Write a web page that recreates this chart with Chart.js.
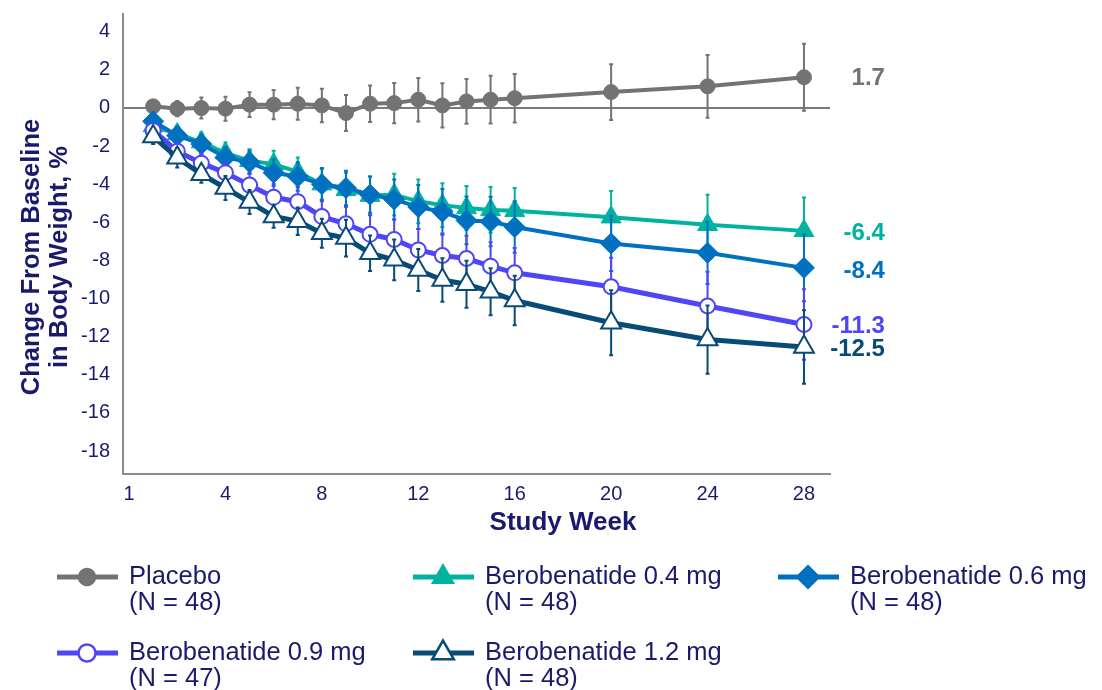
<!DOCTYPE html>
<html>
<head>
<meta charset="utf-8">
<title>Change From Baseline in Body Weight</title>
<script src="https://cdn.jsdelivr.net/npm/chart.js@4.4.0/dist/chart.umd.min.js"></script>
<style>
  html, body { margin: 0; padding: 0; background: #fff; }
  #wrap { width: 1102px; height: 690px; position: relative; }
</style>
</head>
<body>
<div id="wrap"><canvas id="chart" width="1102" height="690"></canvas></div>
<script>
// study weeks where values were measured
const weeks = [1, 2, 3, 4, 5, 6, 7, 8, 9, 10, 11, 12, 13, 14, 15, 16, 20, 24, 28];

// axis ticks as printed
const xTickValues = [0, 4, 8, 12, 16, 20, 24, 28];
const xTickLabels = ['1', '4', '8', '12', '16', '20', '24', '28'];
const yTickValues = [4, 2, 0, -2, -4, -6, -8, -10, -12, -14, -16, -18];

const seriesNames = ['Placebo', 'Berobenatide 0.4 mg', 'Berobenatide 0.6 mg', 'Berobenatide 0.9 mg', 'Berobenatide 1.2 mg'];
const seriesN = ['(N = 48)', '(N = 48)', '(N = 48)', '(N = 47)', '(N = 48)'];
const endLabels = ['1.7', '-6.4', '-8.4', '-11.3', '-12.5'];

// mean change, %
const placebo = [0.08, -0.04, -0.01, -0.04, 0.17, 0.17, 0.22, 0.13, -0.27, 0.22, 0.25, 0.43, 0.13, 0.34, 0.43, 0.51, 0.83, 1.13, 1.61];
const dose04 = [-0.95, -1.37, -1.79, -2.37, -2.77, -2.95, -3.35, -4.0, -4.3, -4.6, -4.55, -4.9, -5.1, -5.25, -5.35, -5.4, -5.73, -6.13, -6.45];
const dose06 = [-0.7, -1.45, -1.9, -2.6, -2.85, -3.4, -3.6, -4.0, -4.2, -4.55, -4.8, -5.2, -5.45, -5.9, -5.96, -6.25, -7.11, -7.6, -8.39];
const dose09 = [-1.18, -2.27, -2.9, -3.4, -4.05, -4.69, -4.92, -5.7, -6.08, -6.63, -6.9, -7.45, -7.74, -7.9, -8.3, -8.65, -9.38, -10.39, -11.36];
const dose12 = [-1.5, -2.62, -3.48, -4.2, -4.94, -5.69, -5.94, -6.57, -6.83, -7.62, -7.97, -8.5, -9.03, -9.25, -9.64, -10.1, -11.27, -12.15, -12.54];

// error bar half-lengths
const placeboErr = [0.2, 0.4, 0.55, 0.63, 0.65, 0.77, 0.84, 0.88, 0.94, 0.96, 1.05, 1.14, 1.16, 1.17, 1.25, 1.27, 1.46, 1.65, 1.76];
const dose04Err = [0.3, 0.4, 0.5, 0.55, 0.6, 0.7, 0.75, 0.8, 0.9, 1.0, 1.1, 1.15, 1.15, 1.15, 1.2, 1.2, 1.37, 1.58, 1.75];
const dose06Err = [0.3, 0.4, 0.5, 0.55, 0.6, 0.7, 0.75, 0.85, 0.9, 0.95, 1.05, 1.15, 1.2, 1.25, 1.3, 1.35, 1.45, 1.63, 1.75];
const dose09Err = [0.3, 0.4, 0.5, 0.55, 0.6, 0.7, 0.75, 0.8, 0.9, 1.0, 1.05, 1.1, 1.15, 1.2, 1.25, 1.3, 1.52, 1.8, 1.85];
const dose12Err = [0.4, 0.5, 0.45, 0.63, 0.63, 0.6, 0.72, 0.76, 0.97, 0.93, 1.07, 1.1, 1.14, 1.23, 1.23, 1.3, 1.7, 1.79, 1.93];

const allValues = [placebo, dose04, dose06, dose09, dose12];
const allErrors = [placeboErr, dose04Err, dose06Err, dose09Err, dose12Err];

const NAVY = '#1a1a6c';
const FONT = '"Liberation Sans", Arial, sans-serif';

// look of each series
const styles = [
  { color: '#737373', fill: '#737373', point: 'circle', radius: 7.5, border: 1, line: 4, order: 5 },
  { color: '#00b3a0', fill: '#00b3a0', point: 'triangle', radius: 11.5, border: 1, line: 4, order: 4 },
  { color: '#0070c0', fill: '#0070c0', point: 'rectRot', radius: 10.5, border: 1, line: 4, order: 3 },
  { color: '#4f46f5', fill: '#ffffff', point: 'circle', radius: 7.5, border: 2, line: 5, order: 2 },
  { color: '#084b76', fill: '#ffffff', point: 'triangle', radius: 11.5, border: 2, line: 5, order: 1 }
];

const datasets = seriesNames.map((name, s) => ({
  label: name,
  data: weeks.map((w, i) => ({ x: w, y: allValues[s][i] })),
  errors: allErrors[s],
  borderColor: styles[s].color,
  backgroundColor: styles[s].fill,
  borderWidth: styles[s].line,
  pointStyle: styles[s].point,
  pointRadius: styles[s].radius,
  pointHoverRadius: styles[s].radius,
  pointBorderWidth: styles[s].border,
  pointBorderColor: styles[s].color,
  pointBackgroundColor: styles[s].fill,
  tension: 0,
  order: styles[s].order
}));

// error bars, drawn just under each series
const errorBars = {
  id: 'errorBars',
  beforeDatasetDraw(chart, args) {
    const ds = chart.data.datasets[args.index];
    const yScale = chart.scales.y;
    const ctx = chart.ctx;
    ctx.save();
    ctx.strokeStyle = ds.borderColor;
    ctx.lineWidth = 2;
    args.meta.data.forEach((pt, i) => {
      const v = ds.data[i].y;
      const e = ds.errors[i];
      const top = yScale.getPixelForValue(v + e);
      const bot = yScale.getPixelForValue(v - e);
      ctx.beginPath();
      ctx.moveTo(pt.x, top);
      ctx.lineTo(pt.x, bot);
      ctx.moveTo(pt.x - 2, top);
      ctx.lineTo(pt.x + 2, top);
      ctx.moveTo(pt.x - 2, bot);
      ctx.lineTo(pt.x + 2, bot);
      ctx.stroke();
    });
    ctx.restore();
  }
};

// titles, end-of-line values and the legend
const decorations = {
  id: 'decorations',
  afterDraw(chart) {
    const ctx = chart.ctx;
    const xs = chart.scales.x, ys = chart.scales.y;
    ctx.save();

    // y title
    ctx.fillStyle = NAVY;
    ctx.font = 'bold 25.5px ' + FONT;
    ctx.textAlign = 'center';
    ctx.textBaseline = 'middle';
    ctx.translate(32, 257);
    ctx.rotate(-Math.PI / 2);
    ctx.fillText('Change From Baseline', 0, 0);
    ctx.fillText('in Body Weight, %', 0, 28);
    ctx.setTransform(1, 0, 0, 1, 0, 0);

    // x title
    ctx.font = 'bold 26px ' + FONT;
    ctx.fillText('Study Week', 563, 523);

    // end labels
    ctx.font = 'bold 24px ' + FONT;
    ctx.textAlign = 'right';
    endLabels.forEach((t, s) => {
      ctx.fillStyle = styles[s].color;
      ctx.fillText(t, xs.getPixelForValue(weeks[weeks.length - 1]) + 81, ys.getPixelForValue(parseFloat(t)) + 3);
    });

    // legend
    const colX = [57, 413, 778];
    const rowY = [577, 653];
    ctx.font = '25.5px ' + FONT;
    ctx.textAlign = 'left';
    seriesNames.forEach((name, s) => {
      const st = styles[s];
      const x0 = colX[s % 3], y0 = rowY[Math.floor(s / 3)];
      ctx.strokeStyle = st.color;
      ctx.lineWidth = 5;
      ctx.beginPath();
      ctx.moveTo(x0, y0);
      ctx.lineTo(x0 + 61, y0);
      ctx.stroke();
      ctx.fillStyle = st.fill;
      ctx.strokeStyle = st.color;
      ctx.lineWidth = st.border + 0.5;
      Chart.helpers.drawPoint(ctx, { pointStyle: st.point, radius: st.radius + 1, borderWidth: st.border + 0.5, rotation: 0 }, x0 + 30, y0);
      ctx.fillStyle = NAVY;
      ctx.fillText(name, x0 + 72, y0);
      ctx.fillText(seriesN[s], x0 + 72, y0 + 26);
    });
    ctx.restore();
  }
};

new Chart(document.getElementById('chart'), {
  type: 'line',
  data: { datasets: datasets },
  options: {
    responsive: false,
    animation: false,
    devicePixelRatio: 1,
    layout: { padding: { top: 13, right: 272, left: 0, bottom: 0 } },
    plugins: { legend: { display: false }, tooltip: { enabled: false } },
    scales: {
      x: {
        type: 'linear',
        min: -0.25,
        max: 29.08,
        afterBuildTicks: (s) => { s.ticks = xTickValues.map(v => ({ value: v })); },
        afterFit: (s) => { s.height = 216; s.paddingLeft = 0; s.paddingRight = 0; },
        ticks: {
          autoSkip: false,
          maxRotation: 0,
          padding: 8,
          color: NAVY,
          font: { family: FONT, size: 20 },
          callback: (v, i) => xTickLabels[i]
        },
        grid: { display: false, drawTicks: false },
        border: { display: true, color: '#8c8c8c', width: 2 }
      },
      y: {
        type: 'linear',
        min: -19.2,
        max: 4.95,
        afterBuildTicks: (s) => { s.ticks = yTickValues.map(v => ({ value: v })); },
        afterFit: (s) => { s.width = 123; s.paddingTop = 0; s.paddingBottom = 0; },
        ticks: {
          padding: 13,
          color: NAVY,
          font: { family: FONT, size: 20 }
        },
        grid: {
          drawTicks: false,
          lineWidth: 2,
          color: (c) => (c.tick && c.tick.value === 0 ? '#7a7a7a' : 'rgba(0,0,0,0)')
        },
        border: { display: true, color: '#8c8c8c', width: 2 }
      }
    }
  },
  plugins: [errorBars, decorations]
});
</script>
</body>
</html>
